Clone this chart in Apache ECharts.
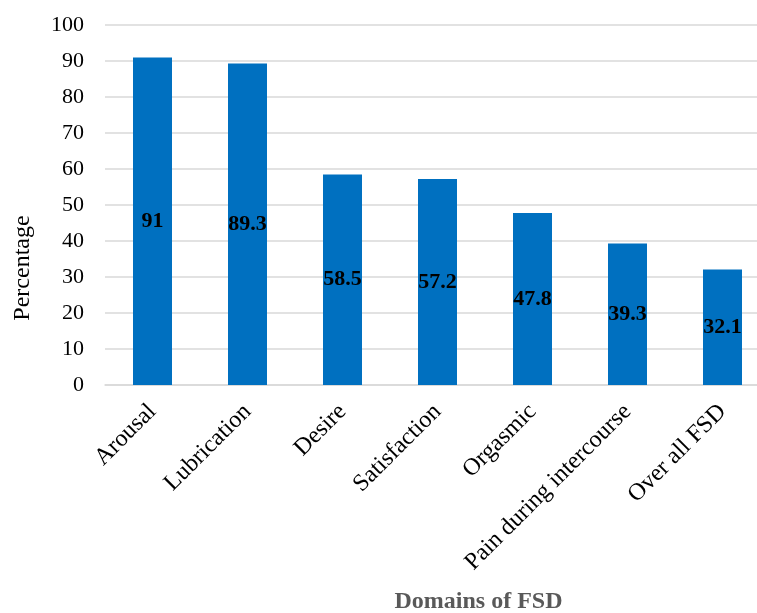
<!DOCTYPE html>
<html>
<head>
<meta charset="utf-8">
<script src="https://cdn.jsdelivr.net/npm/echarts@6/dist/echarts.min.js"></script>
<style>
  html, body { margin: 0; padding: 0; background: #fff; }
  #chart { width: 757px; height: 613px; }
</style>
</head>
<body>
<div id="chart"></div>
<script>
// FSD domain prevalence (%)
const categories = ['Arousal', 'Lubrication', 'Desire', 'Satisfaction', 'Orgasmic', 'Pain during intercourse', 'Over all FSD'];
const percentages = [91, 89.3, 58.5, 57.2, 47.8, 39.3, 32.1];
const yTicks = [0, 10, 20, 30, 40, 50, 60, 70, 80, 90, 100];

const serif = '"Times New Roman", "Liberation Serif", serif';

const chart = echarts.init(document.getElementById('chart'), null, { renderer: 'canvas' });
chart.setOption({
  animation: false,
  grid: { left: 105, top: 25, width: 665, height: 360, containLabel: false, outerBoundsMode: 'none' },
  xAxis: {
    type: 'category',
    data: categories,
    axisLine: { show: true, lineStyle: { color: '#d9d9d9', width: 1.5 } },
    axisTick: { show: false },
    axisLabel: {
      rotate: 45, interval: 0, margin: 23,
      fontFamily: serif, fontSize: 24, color: '#000'
    },
    name: 'Domains of FSD',
    nameLocation: 'middle',
    nameGap: 205,
    nameTextStyle: { fontFamily: serif, fontSize: 24, fontWeight: 'bold', color: '#595959', padding: [0, 0, 0, 82] }
  },
  yAxis: {
    type: 'value',
    min: yTicks[0],
    max: yTicks[yTicks.length - 1],
    interval: 10,
    axisLine: { show: false },
    axisTick: { show: false },
    splitLine: { lineStyle: { color: '#d9d9d9', width: 1.5 } },
    axisLabel: { fontFamily: serif, fontSize: 22, color: '#000', margin: 21 },
    name: 'Percentage',
    nameLocation: 'middle',
    nameGap: 70,
    nameRotate: 90,
    nameTextStyle: { fontFamily: serif, fontSize: 24, color: '#000', padding: [0, 126, 0, 0] }
  },
  series: [{
    type: 'bar',
    data: percentages,
    barWidth: 39,
    itemStyle: { color: '#0070C0' },
    label: {
      show: true,
      position: 'inside',
      fontFamily: serif,
      fontSize: 22,
      fontWeight: 'bold',
      color: '#000'
    }
  }]
});
</script>
</body>
</html>
